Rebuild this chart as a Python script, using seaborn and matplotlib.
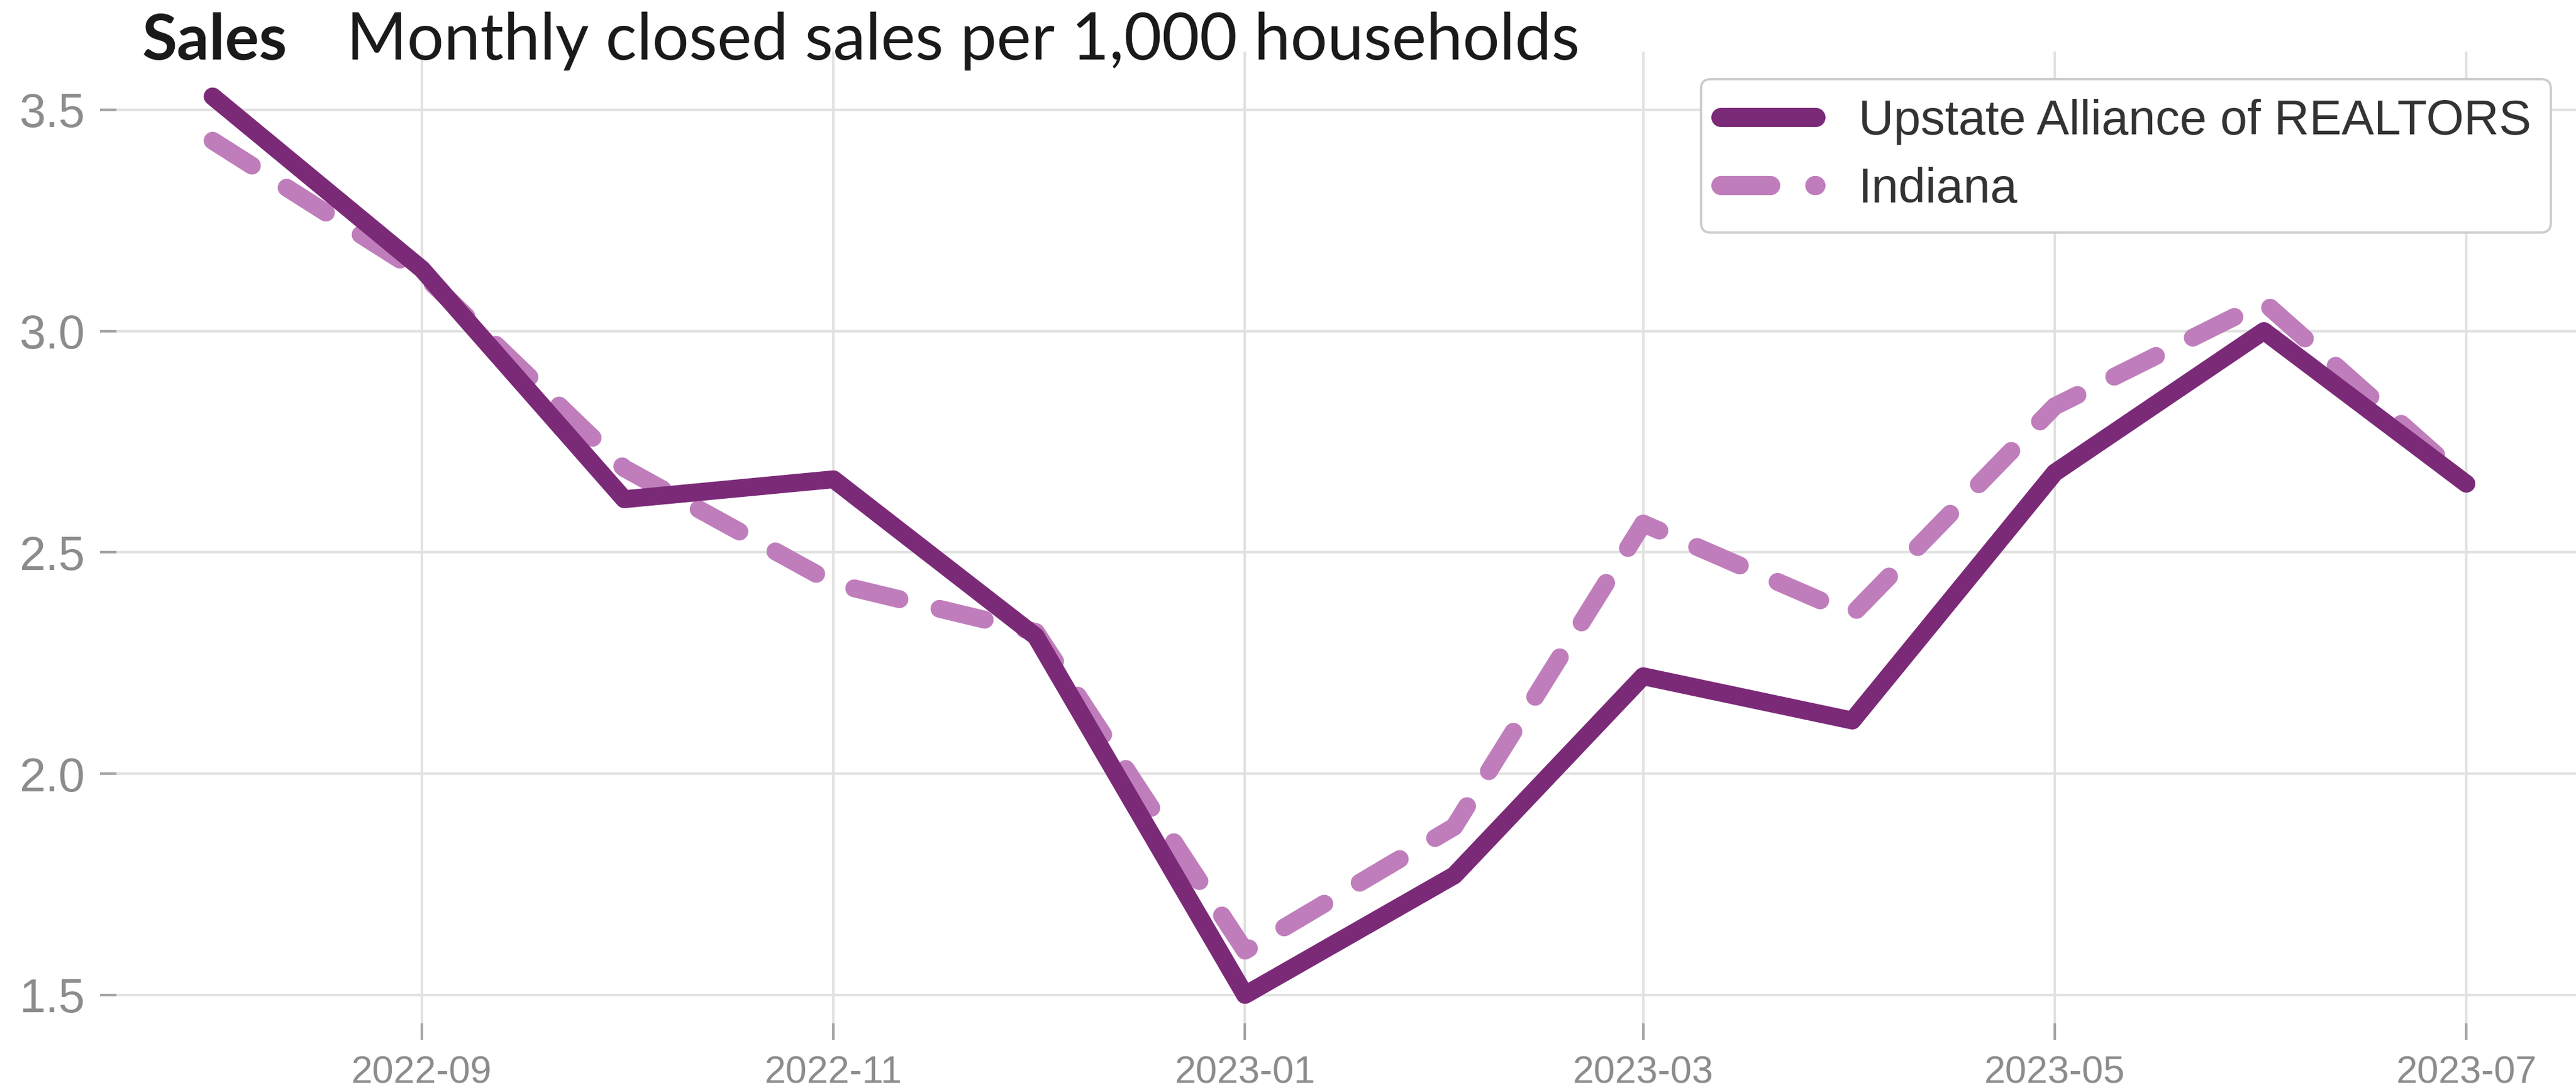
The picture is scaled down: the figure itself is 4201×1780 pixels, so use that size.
import matplotlib
matplotlib.use("Agg")
import matplotlib.pyplot as plt
import matplotlib.dates as mdates
import pandas as pd
import seaborn as sns

# Monthly closed sales per 1,000 households
months = ["2022-08-01", "2022-09-01", "2022-10-01", "2022-11-01", "2022-12-01",
          "2023-01-01", "2023-02-01", "2023-03-01", "2023-04-01", "2023-05-01",
          "2023-06-01", "2023-07-01"]
upstate_sales = [3.53, 3.14, 2.62, 2.665, 2.31, 1.50, 1.77, 2.22, 2.12, 2.68, 3.00, 2.655]
indiana_sales = [3.43, 3.13, 2.69, 2.43, 2.32, 1.60, 1.88, 2.565, 2.36, 2.83, 3.065, 2.66]

series_names = ["Upstate Alliance of REALTORS", "Indiana"]
series_colors = ["#7b2a78", "#bf7ebb"]
y_ticks = [1.5, 2.0, 2.5, 3.0, 3.5]
title_bold = "Sales"
title_rest = "Monthly closed sales per 1,000 households"

df = pd.DataFrame({
    "month": pd.to_datetime(months + months),
    "sales": upstate_sales + indiana_sales,
    "series": [series_names[0]] * len(months) + [series_names[1]] * len(months),
})

sns.set_style("whitegrid", {"grid.color": "#e2e2e2", "axes.edgecolor": "none"})
plt.rcParams["font.family"] = ["Liberation Sans", "DejaVu Sans"]

W, H, DPI = 4201, 1780, 300
fig = plt.figure(figsize=(W / DPI, H / DPI), dpi=DPI)
ax = fig.add_axes([163 / W, 85 / H, (4206 - 163) / W, (1695 - 84) / H])

sns.lineplot(
    data=df, x="month", y="sales", hue="series", style="series",
    hue_order=series_names, style_order=series_names,
    palette=dict(zip(series_names, series_colors)),
    dashes={series_names[0]: "", series_names[1]: (2.6, 2.3)},
    linewidth=7, ax=ax,
    solid_capstyle="round", dash_capstyle="round",
    solid_joinstyle="round", dash_joinstyle="round",
)
# solid regional line sits above the state line
ax.lines[0].set_zorder(3)
ax.lines[1].set_zorder(2)

ax.set_xlabel("")
ax.set_ylabel("")
ax.set_yticks(y_ticks)
ax.xaxis.set_major_locator(mdates.MonthLocator(bymonth=[1, 3, 5, 7, 9, 11]))
ax.xaxis.set_major_formatter(mdates.DateFormatter("%Y-%m"))
ax.grid(True, color="#e2e2e2", linewidth=1.0)
for s in ax.spines.values():
    s.set_visible(False)

ax.tick_params(axis="both", direction="in", length=6.5, width=1.0,
               color="#a5a5a5", labelcolor="#8c8c8c")
ax.tick_params(axis="x", labelsize=15, pad=6, bottom=True)
ax.tick_params(axis="y", labelsize=18.5, pad=6, left=True)

handles, labels = ax.get_legend_handles_labels()
leg = ax.legend(
    handles, labels, loc="upper right", bbox_to_anchor=(0.9886, 0.972),
    borderaxespad=0, fontsize=19, frameon=True, fancybox=True,
    handlelength=1.96, handletextpad=0.89, labelspacing=0.46, borderpad=0.4,
    edgecolor="#cccccc", facecolor="white", framealpha=1.0,
)
leg.get_frame().set_linewidth(0.9)
for t in leg.get_texts():
    t.set_color("#333333")
for h in leg.legend_handles:
    h.set_linewidth(7.5)
    h.set_solid_capstyle("round")
    h.set_dash_capstyle("round")

fig.text(232 / W, 1 - 97 / H, title_bold, fontsize=25, fontweight="bold",
         family=["Lato", "DejaVu Sans"], va="baseline", ha="left", color="#1a1a1a")
fig.text(565 / W, 1 - 97 / H, title_rest, fontsize=25.5, fontweight="normal",
         family=["Lato", "DejaVu Sans"], va="baseline", ha="left", color="#1a1a1a")

fig.savefig("out.png", dpi=DPI)
